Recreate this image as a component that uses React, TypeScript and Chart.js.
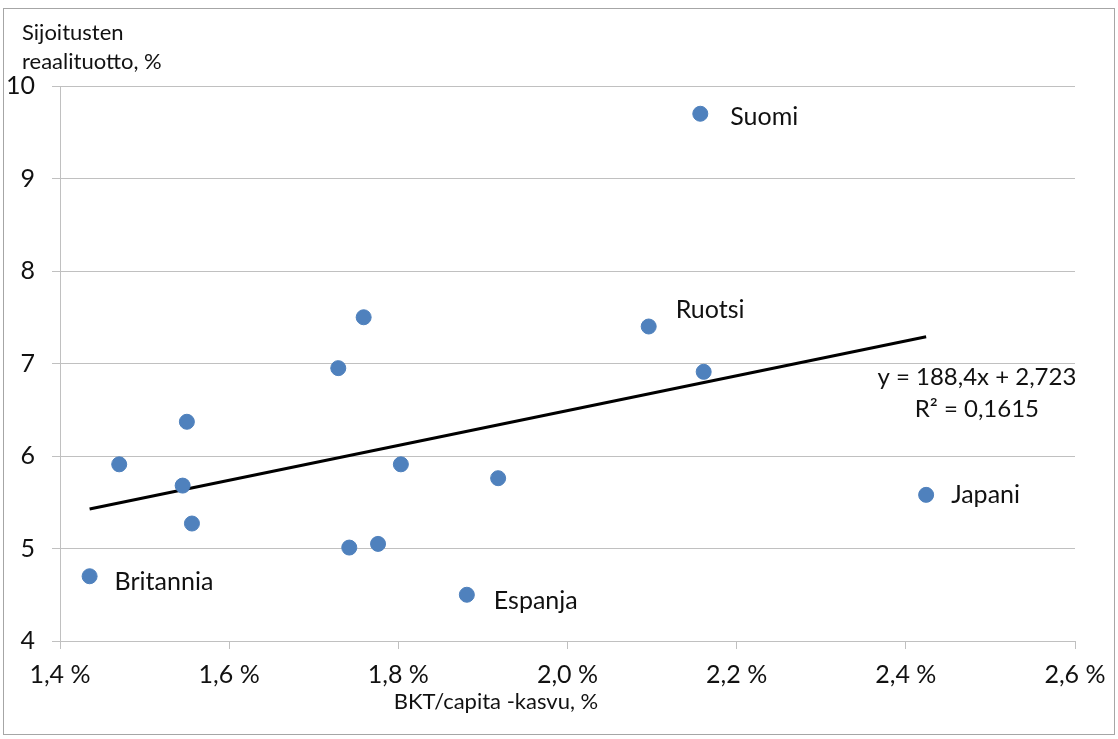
import React, { useEffect, useRef } from "react";
import { Chart, registerables } from "chart.js";

Chart.register(...registerables);

// ---- data ----
const countries = [
  "Suomi", "Ruotsi", "C3", "Japani", "C5", "C6", "C7", "C8",
  "C9", "C10", "C11", "C12", "C13", "C14", "Espanja", "Britannia",
];
const gdpGrowth = [
  2.157, 2.096, 2.161, 2.424, 1.759, 1.729, 1.550, 1.470,
  1.545, 1.556, 1.803, 1.918, 1.742, 1.776, 1.881, 1.435,
];
const realReturn = [
  9.70, 7.40, 6.91, 5.58, 7.50, 6.95, 6.37, 5.91,
  5.68, 5.27, 5.91, 5.76, 5.01, 5.05, 4.50, 4.70,
];
const pointLabels = [
  "Suomi", "Ruotsi", "", "Japani", "", "", "", "",
  "", "", "", "", "", "", "Espanja", "Britannia",
];
const xTickValues = [1.4, 1.6, 1.8, 2.0, 2.2, 2.4, 2.6];
const yTickValues = [4, 5, 6, 7, 8, 9, 10];
const trendSlope = 188.4; // per unit fraction
const trendIntercept = 2.723;
const trendTextLines = ["y = 188,4x + 2,723", "R\u00B2 = 0,1615"];
const xTitle = "BKT/capita -kasvu, %";
const yTitleLines = ["Sijoitusten", "reaalituotto, %"];

// ---- styles ----
const FONT = "Lato, 'Noto Sans', sans-serif";
const POINT_COLOR = "#4F81BD";
const GRID_COLOR = "#C0C0C0";
const TEXT_COLOR = "#111111";
const labelOffsets: Record<string, [number, number]> = {
  Suomi: [30, 3],
  Ruotsi: [27, -17],
  Japani: [25, 0],
  Espanja: [27, 6],
  Britannia: [25, 6],
};

export default function App() {
  const ref = useRef<HTMLCanvasElement | null>(null);

  useEffect(() => {
    if (!ref.current) return;
    const xMin = Math.min(...gdpGrowth);
    const xMax = Math.max(...gdpGrowth);
    const trend = [xMin, xMax].map((x) => ({
      x,
      y: trendSlope * (x / 100) + trendIntercept,
    }));

    const overlay = {
      id: "overlay",
      beforeDraw(chart: any) {
        const ctx = chart.ctx;
        ctx.save();
        ctx.fillStyle = "#ffffff";
        ctx.fillRect(0, 0, chart.width, chart.height);
        ctx.strokeStyle = "#A6A6A6";
        ctx.lineWidth = 1;
        ctx.strokeRect(3.5, 8.5, 1111, 726);
        ctx.restore();
      },
      afterDatasetsDraw(chart: any) {
        const ctx = chart.ctx;
        const meta = chart.getDatasetMeta(0);
        ctx.save();
        ctx.fillStyle = TEXT_COLOR;
        ctx.textBaseline = "middle";
        ctx.textAlign = "left";
        ctx.font = `25px ${FONT}`;
        meta.data.forEach((el: any, i: number) => {
          const lbl = pointLabels[i];
          if (!lbl) return;
          const off = labelOffsets[lbl] || [25, 0];
          ctx.fillText(lbl, el.x + off[0], el.y + off[1]);
        });
        // trend equation
        const xs = chart.scales.x;
        const ys = chart.scales.y;
        const cx = xs.getPixelForValue(2.484);
        ctx.textAlign = "center";
        ctx.font = `24px ${FONT}`;
        ctx.fillText(trendTextLines[0], cx, ys.getPixelForValue(6.85));
        ctx.fillText(trendTextLines[1], cx, ys.getPixelForValue(6.5));
        // titles
        ctx.font = `22px ${FONT}`;
        ctx.textAlign = "left";
        ctx.fillText(yTitleLines[0], 22, 33);
        ctx.fillText(yTitleLines[1], 22, 62);
        ctx.textAlign = "center";
        ctx.fillText(xTitle, 496, 702);
        ctx.restore();
      },
    };

    const chart = new Chart(ref.current, {
      type: "scatter",
      data: {
        datasets: [
          {
            label: "Maat",
            data: gdpGrowth.map((x, i) => ({ x, y: realReturn[i] })),
            backgroundColor: POINT_COLOR,
            borderColor: POINT_COLOR,
            pointRadius: 7.5,
            pointHoverRadius: 7.5,
          },
          {
            type: "line",
            label: "Trendi",
            data: trend,
            borderColor: "#000000",
            borderWidth: 3,
            pointRadius: 0,
            fill: false,
          } as any,
        ],
      },
      plugins: [overlay],
      options: {
        animation: false,
        responsive: false,
        maintainAspectRatio: false,
        layout: { padding: { left: 0, right: 43, top: 86, bottom: 0 } },
        plugins: {
          legend: { display: false },
          tooltip: { enabled: false },
        },
        scales: {
          x: {
            type: "linear",
            min: xTickValues[0],
            max: xTickValues[xTickValues.length - 1],
            afterBuildTicks: (s: any) => {
              s.ticks = xTickValues.map((v) => ({ value: v }));
            },
            afterFit: (s: any) => {
              s.height = 98;
            },
            grid: {
              drawOnChartArea: false,
              drawTicks: true,
              tickLength: 8,
              color: GRID_COLOR,
            },
            border: { color: GRID_COLOR },
            ticks: {
              padding: 11,
              maxRotation: 0,
              color: TEXT_COLOR,
              font: { size: 25, family: FONT },
              callback: (v: any) => Number(v).toFixed(1).replace(".", ",") + " %",
            },
          },
          y: {
            type: "linear",
            min: yTickValues[0],
            max: yTickValues[yTickValues.length - 1],
            afterBuildTicks: (s: any) => {
              s.ticks = yTickValues.map((v) => ({ value: v }));
            },
            afterFit: (s: any) => {
              s.width = 60;
            },
            grid: {
              drawTicks: true,
              tickLength: 8,
              color: GRID_COLOR,
            },
            border: { color: GRID_COLOR },
            ticks: {
              padding: 17,
              color: TEXT_COLOR,
              font: { size: 25, family: FONT },
              callback: (v: any) => String(v),
            },
          },
        },
      },
    });
    return () => chart.destroy();
  }, []);

  return (
    <div style={{ position: "fixed", left: 0, top: 0, width: 1118, height: 739, background: "#fff" }}>
      <canvas ref={ref} width={1118} height={739} style={{ width: 1118, height: 739, display: "block" }} />
    </div>
  );
}
